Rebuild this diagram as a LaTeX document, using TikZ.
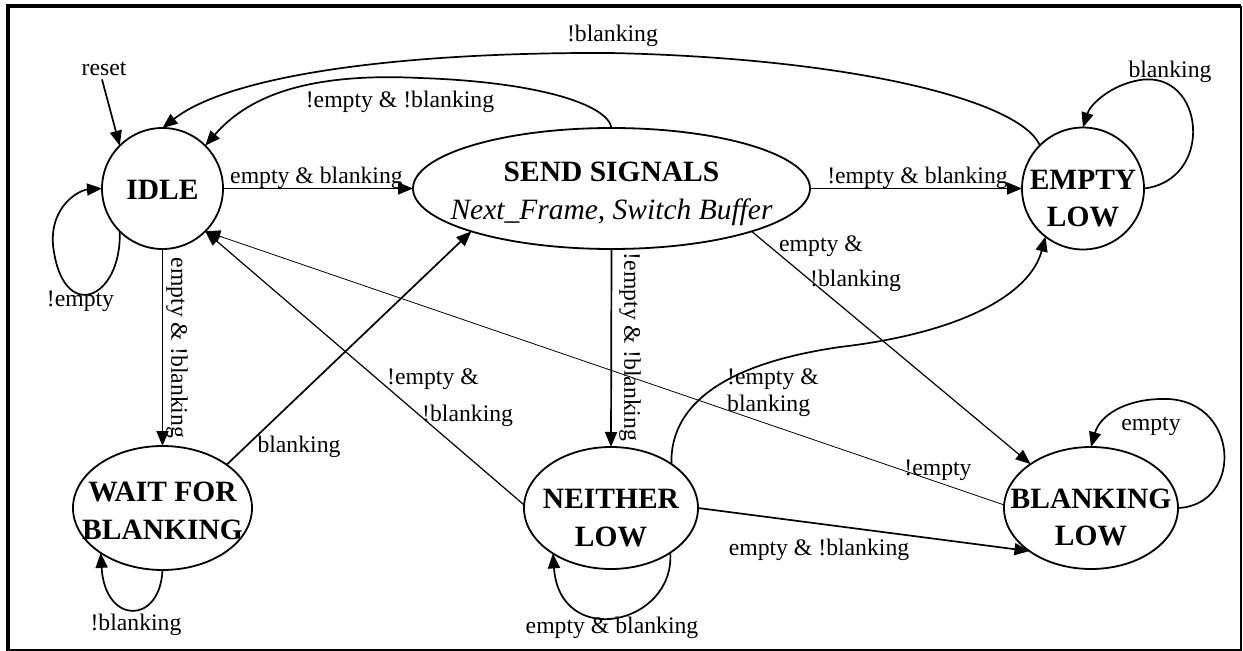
\documentclass[tikz,border=0pt]{standalone}
\usepackage{fontspec}
\setmainfont{Liberation Serif}
\usetikzlibrary{arrows.meta,shapes.geometric}
\begin{document}
\begin{tikzpicture}[x=1bp,y=-1bp,
  statebox/.style={draw, line width=1.8bp, inner sep=0pt, outer sep=0pt},
  stxt/.style={font=\fontsize{29.6}{38}\selectfont\bfseries, align=center, inner sep=0pt},
  lbl/.style={font=\fontsize{23.8}{30}\selectfont, inner sep=0pt},
  tr/.style={line width=1.7bp, -{Triangle[length=15bp,width=12bp]}},
  thintr/.style={tr, line width=0.8bp},
  midtr/.style={tr, line width=1.2bp},
]
\useasboundingbox (0,0) rectangle (1243,651);
% frame
\draw[line width=4bp] (1241,6) -- (7.5,6) -- (7.5,651);
\draw[line width=2bp] (7.5,650) -- (1240.5,650) -- (1240.5,6);

% states
\node[statebox, circle, minimum size=121bp] (idle) at (162.5,188.5) {};
\node[statebox, ellipse, minimum width=397bp, minimum height=121bp] (send) at (611.5,188.5) {};
\node[statebox, circle, minimum size=122bp] (empty) at (1083,188.5) {};
\node[statebox, ellipse, minimum width=179bp, minimum height=124bp] (wait) at (162.5,508) {};
\node[statebox, ellipse, minimum width=174bp, minimum height=122bp] (neither) at (611,508) {};
\node[statebox, ellipse, minimum width=174bp, minimum height=122bp] (blanking) at (1091,508) {};

\node[stxt] (idlet) at (162.5,190) {IDLE};
\node[stxt] (sendt) at (611.5,193.5) {SEND SIGNALS\\{\normalfont\itshape Next\_Frame, Switch Buffer}};
\node[stxt] (emptyt) at (1083,198.5) {EMPTY\\LOW};
\node[stxt] (waitt) at (162.5,511) {WAIT FOR\\BLANKING};
\node[stxt] (neithert) at (611,518) {NEITHER\\LOW};
\node[stxt] (blankingt) at (1091,517.5) {BLANKING\\LOW};

% labels
\node[lbl, anchor=base] (lreset) at (104,76) {reset};
\node[lbl, anchor=base] (lidleloop) at (80.5,306) {!empty};
\node[lbl, anchor=base] (lidlesend) at (316.5,184) {empty \& blanking};
\node[lbl, rotate=-90] (lidlewait) at (177,348) {empty \& !blanking};
\node[lbl, anchor=base] (lwaitsend) at (299,452) {blanking};
\node[lbl, align=left, anchor=north west, font=\fontsize{23.8}{37}\selectfont] (lneitheridle) at (387,369) {!empty \&\\\hspace*{35bp}!blanking};
\node[lbl, anchor=base] (lblankidle) at (938,475) {!empty};
\node[lbl, anchor=base] (lsendempty) at (917.5,184) {!empty \& blanking};
\node[lbl, rotate=-90] (lsendneither) at (630,347) {!empty \& !blanking};
\node[lbl, align=left, anchor=north west, font=\fontsize{23.8}{35}\selectfont] (lsendblank) at (779,236) {empty \&\\\hspace*{31bp}!blanking};
\node[lbl, anchor=base] (ltop) at (612.5,42) {!blanking};
\node[lbl, anchor=base] (lsendidle) at (400,108) {!empty \& !blanking};
\node[lbl, anchor=base] (lemptyloop) at (1170,78) {blanking};
\node[lbl, align=left, anchor=north west, font=\fontsize{23.8}{27}\selectfont] (lneitherempty) at (727,369) {!empty \&\\blanking};
\node[lbl, anchor=base] (lneitherblank) at (819,555) {empty \& !blanking};
\node[lbl, anchor=base] (lneitherloop) at (612,633) {empty \& blanking};
\node[lbl, anchor=base] (lwaitloop) at (136,630) {!blanking};
\node[lbl, anchor=base] (lblankloop) at (1151,430) {empty};

% edges
\draw[tr] (lreset.south) ++(-2,3) coordinate (rs) -- (idle.135);
\draw[tr] (idle.225) .. controls (122,300) and (62,325) .. (53,245) .. controls (50,205) and (80,190) .. (idle.180);
\draw[tr] (idle.east) -- (send.west);
\draw[tr] (idle.south) -- (wait.north);
\draw[tr] (wait.34) -- (send.197);
\draw[midtr] (neither.178) -- (idle.-45);
\draw[thintr] (blanking.178) -- (idle.-45);
\draw[tr] (send.east) -- (empty.west);
\draw[tr] (send.south) -- (neither.north);
\draw[midtr] (send.-17.6) -- (blanking.144.5);
\draw[tr] (empty.135) .. controls (1020,100) and (850,58) .. (610,53) .. controls (400,52) and (230,75) .. (idle.90);
\draw[tr] (send.90) .. controls (608,105) and (540,82) .. (420,78) .. controls (300,72) and (245,100) .. (idle.45);
\draw[tr] (empty.0) .. controls (1215,180) and (1205,70) .. (1140,80) .. controls (1110,85) and (1090,105) .. (empty.90);
\draw[tr] (neither.36) .. controls (670,410) and (715,365) .. (840,347) .. controls (960,333) and (1030,295) .. (empty.232);
\draw[tr] (neither.east) -- (blanking.215);
\draw[tr] (neither.323) .. controls (675,625) and (560,650) .. (neither.218);
\draw[tr] (wait.-90) .. controls (160,625) and (105,625) .. (wait.216);
\draw[tr] (blanking.0) .. controls (1245,505) and (1240,395) .. (1160,399) .. controls (1125,400) and (1100,415) .. (blanking.90);
\end{tikzpicture}
\end{document}
